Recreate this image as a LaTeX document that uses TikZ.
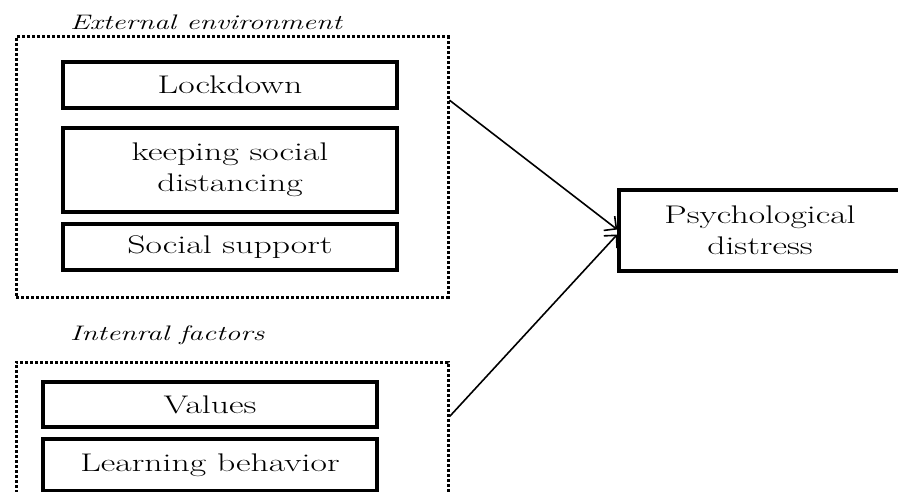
\documentclass[tikz,border=0pt]{standalone}
\usepackage{fontspec}
\setmainfont{Latin Modern Roman}[FakeStretch=1.4]
\usetikzlibrary{arrows.meta,calc}

\begin{document}
\begin{tikzpicture}[x=1pt, y=-1pt]
\tikzstyle{group box}=[rectangle, draw=black, line width=3pt, dash pattern=on 3pt off 2pt, inner sep=0pt]
\tikzstyle{factor box}=[rectangle, draw=black, line width=3.5pt, inner sep=0pt, minimum width=334pt, align=center, font=\fontsize{25.5}{31}\selectfont]
\tikzstyle{group label}=[anchor=west, inner sep=0pt, font=\fontsize{21}{24}\selectfont\itshape]
\tikzstyle{link}=[black, line width=1.6pt, -{Straight Barb[length=9pt,width=18pt,line width=1.6pt]}]

\useasboundingbox (0,0) rectangle (898,492);
\clip (0,0) rectangle (898,492);

% Draw the external environment group
\node[group box, minimum width=432pt, minimum height=260pt] (ExtBox) at (232,167) {};
\node[group label] (ExtLabel) at (70,22) {External environment};
\node[factor box, minimum height=46pt] (Lockdown) at (230,85) {Lockdown};
\node[factor box, minimum height=84pt] (Distancing) at (230,170) {keeping social\\distancing};
\node[factor box, minimum height=46pt] (Support) at (230,247) {Social support};

% Draw the internal factors group
\node[group box, minimum width=432pt, minimum height=178pt] (IntBox) at (232,451) {};
\node[group label] (IntLabel) at (70,335) {Intenral factors};
\node[factor box, minimum height=45pt] (Values) at (210,404.5) {Values};
\node[factor box, minimum height=52pt] (Learning) at (210,465) {Learning behavior};

% Draw the outcome
\node[factor box, minimum width=282pt, minimum height=81pt] (Distress) at (760,230.5) {Psychological\\distress};

\draw[link] ($(ExtBox.north east)!0.246!(ExtBox.south east)$) -- ($(Distress.west)+(0,-1)$);
\draw[link] ($(IntBox.north east)!0.31!(IntBox.south east)$) -- ($(Distress.west)+(0,4)$);

\end{tikzpicture}
\end{document}
